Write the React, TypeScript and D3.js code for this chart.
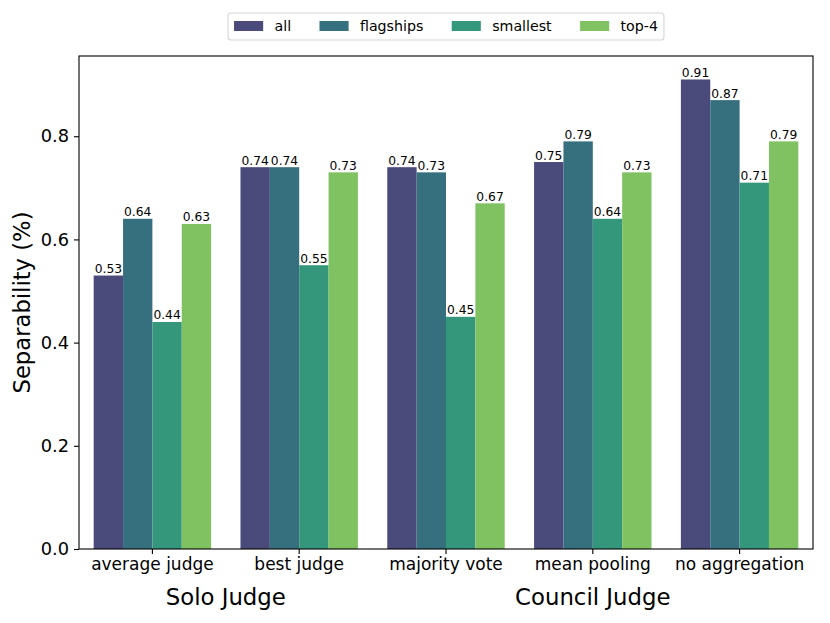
import * as d3 from "d3";
import { useEffect, useRef } from "react";

// categories along the x axis
const categories = ["average judge", "best judge", "majority vote", "mean pooling", "no aggregation"];
// hue groups
const seriesNames = ["all", "flagships", "smallest", "top-4"];
const seriesColors = ["#4a4a7b", "#36707f", "#34977b", "#80c262"];
// values per series, one per category
const allValues = [0.53, 0.74, 0.74, 0.75, 0.91];
const flagshipValues = [0.64, 0.74, 0.73, 0.79, 0.87];
const smallestValues = [0.44, 0.55, 0.45, 0.64, 0.71];
const top4Values = [0.63, 0.73, 0.67, 0.73, 0.79];
const seriesValues = [allValues, flagshipValues, smallestValues, top4Values];
const yTicks = [0.0, 0.2, 0.4, 0.6, 0.8];
// super-groups under the x axis: [label, first category index, last category index]
const groupLabels: [string, number, number][] = [
	["Solo Judge", 0, 1],
	["Council Judge", 2, 4],
];

const WIDTH = 830;
const HEIGHT = 623;
const margin = { top: 56, right: 17, bottom: 74, left: 79 };
const FONT = "DejaVu Sans";

const App = () => {
	const svgRef = useRef<SVGSVGElement | null>(null);

	useEffect(() => {
		const svg = d3.select(svgRef.current);
		svg.selectAll("*").remove();

		const chartWidth = WIDTH - margin.left - margin.right;
		const chartHeight = HEIGHT - margin.top - margin.bottom;

		const maxVal = d3.max(seriesValues.flat()) || 1;
		//matplotlib style 5% margin on top
		const yScale = d3.scaleLinear().domain([0, maxVal * 1.05]).range([chartHeight, 0]);
		const xScale = d3.scaleBand().domain(categories).range([0, chartWidth]).paddingInner(0.2).paddingOuter(0.1);
		const hueScale = d3.scaleBand().domain(seriesNames).range([0, xScale.bandwidth()]);

		svg.append("rect").attr("width", WIDTH).attr("height", HEIGHT).attr("fill", "white");

		const chart = svg.append("g").attr("transform", `translate(${margin.left},${margin.top})`);

		//bars + value labels
		seriesNames.forEach((name, si) => {
			const g = chart.append("g");
			const rows = categories.map((c, ci) => ({ c, v: seriesValues[si][ci] }));
			g.selectAll("rect")
				.data(rows)
				.enter()
				.append("rect")
				.attr("x", (d) => xScale(d.c)! + hueScale(name)!)
				.attr("y", (d) => yScale(d.v))
				.attr("width", hueScale.bandwidth())
				.attr("height", (d) => chartHeight - yScale(d.v))
				.attr("fill", seriesColors[si]);
			g.selectAll("text")
				.data(rows)
				.enter()
				.append("text")
				.attr("x", (d) => xScale(d.c)! + hueScale(name)! + hueScale.bandwidth() / 2)
				.attr("y", (d) => yScale(d.v) - 2.5)
				.attr("text-anchor", "middle")
				.attr("font-family", FONT)
				.attr("font-size", 12.3)
				.text((d) => d.v.toFixed(2));
		});

		//frame
		chart
			.append("rect")
			.attr("width", chartWidth)
			.attr("height", chartHeight)
			.attr("fill", "none")
			.attr("stroke", "black")
			.attr("stroke-width", 1.1);

		//y axis
		const yAxis = d3
			.axisLeft(yScale)
			.tickValues(yTicks)
			.tickSize(5)
			.tickPadding(5)
			.tickFormat((d) => (d as number).toFixed(1));
		const yg = chart.append("g").call(yAxis);
		yg.select(".domain").remove();
		yg.selectAll("line").attr("stroke-width", 1.1);
		yg.selectAll("text").attr("font-family", FONT).attr("font-size", 17.8).attr("fill", "black");

		//x axis
		const xAxis = d3.axisBottom(xScale).tickSize(5).tickPadding(4);
		const xg = chart.append("g").attr("transform", `translate(0,${chartHeight})`).call(xAxis);
		xg.select(".domain").remove();
		xg.selectAll("line").attr("stroke-width", 1.1);
		xg.selectAll("text").attr("font-family", FONT).attr("font-size", 17).attr("fill", "black");

		//group labels
		groupLabels.forEach(([label, a, b]) => {
			const cx = (xScale(categories[a])! + xScale(categories[b])!) / 2 + xScale.bandwidth() / 2;
			chart
				.append("text")
				.attr("x", cx)
				.attr("y", chartHeight + 56)
				.attr("text-anchor", "middle")
				.attr("font-family", FONT)
				.attr("font-size", 22.8)
				.text(label);
		});

		//y label
		svg.append("text")
			.attr("transform", `translate(30,${margin.top + chartHeight / 2}) rotate(-90)`)
			.attr("text-anchor", "middle")
			.attr("font-family", FONT)
			.attr("font-size", 22.7)
			.text("Separability (%)");

		//legend, laid out like matplotlib (em based spacing)
		const fs = 14.2;
		const legend = svg.append("g");
		const items = legend.append("g");
		let cursor = 0;
		seriesNames.forEach((name, i) => {
			items.append("rect")
				.attr("x", cursor)
				.attr("y", -10)
				.attr("width", fs * 2.05)
				.attr("height", 10)
				.attr("fill", seriesColors[i]);
			cursor += fs * 2.05 + fs * 0.8;
			const t = items
				.append("text")
				.attr("x", cursor)
				.attr("y", 0)
				.attr("font-family", FONT)
				.attr("font-size", fs)
				.text(name);
			const w = (t.node() as SVGTextElement).getComputedTextLength();
			cursor += w;
			if (i < seriesNames.length - 1) cursor += fs * 2;
		});
		const pad = 6;
		const lx = margin.left + chartWidth / 2 - cursor / 2;
		items.attr("transform", `translate(${lx},31)`);
		legend
			.insert("rect", ":first-child")
			.attr("x", lx - pad)
			.attr("y", 13)
			.attr("width", cursor + pad * 2)
			.attr("height", 27)
			.attr("rx", 3)
			.attr("fill", "white")
			.attr("stroke", "#d6d6d6")
			.attr("stroke-width", 1.1);
	}, []);

	return <svg ref={svgRef} width={WIDTH} height={HEIGHT} style={{ display: "block", margin: -8 }} />;
};

export default App;
